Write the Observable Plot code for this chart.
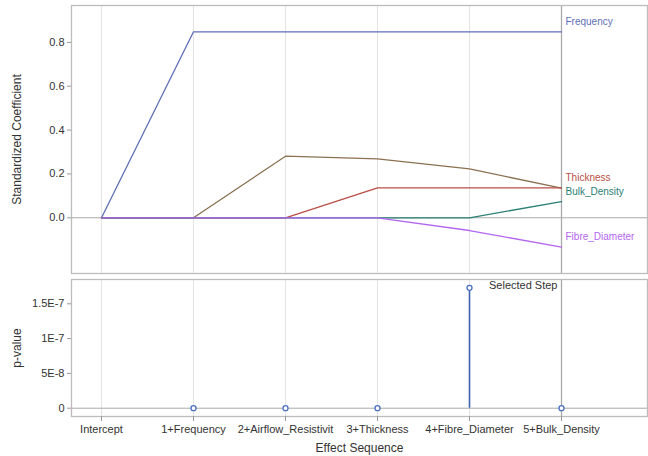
<!DOCTYPE html>
<html>
<head>
<meta charset="utf-8">
<script src="https://cdn.jsdelivr.net/npm/d3@7"></script>
<script src="https://cdn.jsdelivr.net/npm/@observablehq/plot@0.6"></script>
<style>
  html, body { margin: 0; padding: 0; background: #fff; }
  #chart svg { display: block; }
</style>
</head>
<body>
<div id="chart"></div>
<script>
// Effect sequence of the stepwise selection
const steps = ["Intercept", "1+Frequency", "2+Airflow_Resistivit", "3+Thickness", "4+Fibre_Diameter", "5+Bulk_Density"];

// Standardized coefficient of each effect at every step
const effects = ["Frequency", "Airflow_Resistivity", "Thickness", "Bulk_Density", "Fibre_Diameter"];
const frequency = [0, 0.848, 0.848, 0.848, 0.848, 0.848];
const airflowResistivity = [0, 0, 0.281, 0.269, 0.223, 0.135];
const thickness = [0, 0, 0, 0.136, 0.136, 0.136];
const bulkDensity = [0, 0, 0, 0, 0, 0.074];
const fibreDiameter = [0, 0, 0, 0, -0.058, -0.134];
const labelledEffects = ["Frequency", "Thickness", "Bulk_Density", "Fibre_Diameter"];
const effectColors = ["#5f6fb6", "#8b7152", "#b84f45", "#2b8076", "#b266f0"];

// p-value of the entered effect at each step (none for the intercept)
const pValues = [null, 0, 0, 0, 1.73e-7, 0];
const selectedStep = "5+Bulk_Density";

const coefSeries = [frequency, airflowResistivity, thickness, bulkDensity, fibreDiameter];
const coefRows = effects.flatMap((effect, i) =>
  steps.map((step, j) => ({effect, step, value: coefSeries[i][j]}))
);
const endRows = coefRows.filter(d => d.step === steps[steps.length - 1] && labelledEffects.includes(d.effect));
const pRows = steps.map((step, j) => ({step, p: pValues[j]})).filter(d => d.p !== null);

const font = "Liberation Sans, Arial, Helvetica, sans-serif";
const gridSteps = steps.filter(s => s !== selectedStep);
const xScale = {type: "point", domain: steps, range: [100, 562], padding: 0, axis: null};

// Vertical axis title, centred on the panel's left edge
const yTitle = title => Plot.text([title], {
  frameAnchor: "left", rotate: -90, textAnchor: "middle", lineAnchor: "middle",
  dx: -54, fontSize: 12, fill: "#333"
});

const coefPlot = Plot.plot({
  width: 648,
  height: 276,
  marginLeft: 71,
  marginRight: 1,
  marginTop: 5,
  marginBottom: 3,
  style: {fontFamily: font, fontSize: "11px", color: "#333", background: "#fff"},
  x: xScale,
  y: {domain: [-0.254, 0.968], axis: null},
  color: {domain: effects, range: effectColors},
  marks: [
    Plot.ruleX(gridSteps, {stroke: "#e4e4e4"}),
    Plot.ruleX([selectedStep], {stroke: "#a9a9a9", strokeWidth: 1.3}),
    Plot.ruleY([0], {stroke: "#a9a9a9"}),
    Plot.line(coefRows, {x: "step", y: "value", z: "effect", stroke: "effect", strokeWidth: 1.3}),
    Plot.text(endRows, {x: "step", y: "value", text: "effect", fill: "effect", textAnchor: "start", dx: 4, dy: -10, fontSize: 10}),
    Plot.frame({stroke: "#bcbcbc", strokeWidth: 1.3}),
    Plot.axisY({ticks: [0, 0.2, 0.4, 0.6, 0.8], tickFormat: d3.format(".1f"), tickSize: 4, tickPadding: 3, stroke: "#9a9a9a", fill: "#333", label: null, fontSize: 11}),
    yTitle("Standardized Coefficient")
  ]
});

const pPlot = Plot.plot({
  width: 648,
  height: 180,
  marginLeft: 71,
  marginRight: 1,
  marginTop: 3,
  marginBottom: 40,
  style: {fontFamily: font, fontSize: "11px", color: "#333", background: "#fff"},
  x: xScale,
  y: {domain: [-1.19e-8, 1.849e-7], axis: null},
  marks: [
    Plot.ruleX(gridSteps, {stroke: "#e4e4e4"}),
    Plot.ruleX([selectedStep], {stroke: "#a9a9a9", strokeWidth: 1.3}),
    Plot.ruleY([0], {stroke: "#a9a9a9"}),
    Plot.ruleX(pRows, {x: "step", y1: 0, y2: "p", stroke: "#3d62b3", strokeWidth: 1.6}),
    Plot.dot(pRows, {x: "step", y: "p", r: 2.5, stroke: "#4a6fc0", strokeWidth: 1.3, fill: "#fff"}),
    Plot.text(["Selected Step"], {x: () => selectedStep, frameAnchor: "top", lineAnchor: "middle", textAnchor: "end", dx: -4, dy: 6, fontSize: 11, fill: "#333"}),
    Plot.frame({stroke: "#bcbcbc", strokeWidth: 1.3}),
    Plot.axisY({ticks: [0, 5e-8, 1e-7, 1.5e-7], tickFormat: v => v === 0 ? "0" : v.toExponential().replace("e", "E").replace("+", ""), tickSize: 4, tickPadding: 3, stroke: "#9a9a9a", fill: "#333", label: null, fontSize: 11}),
    Plot.axisX({tickSize: 5, tickPadding: 4, stroke: "#9a9a9a", fill: "#333", label: null, fontSize: 11}),
    yTitle("p-value"),
    Plot.text(["Effect Sequence"], {frameAnchor: "bottom", lineAnchor: "middle", dy: 32, fontSize: 12, fill: "#333"})
  ]
});

const chart = document.getElementById("chart");
chart.append(coefPlot, pPlot);
</script>
</body>
</html>
